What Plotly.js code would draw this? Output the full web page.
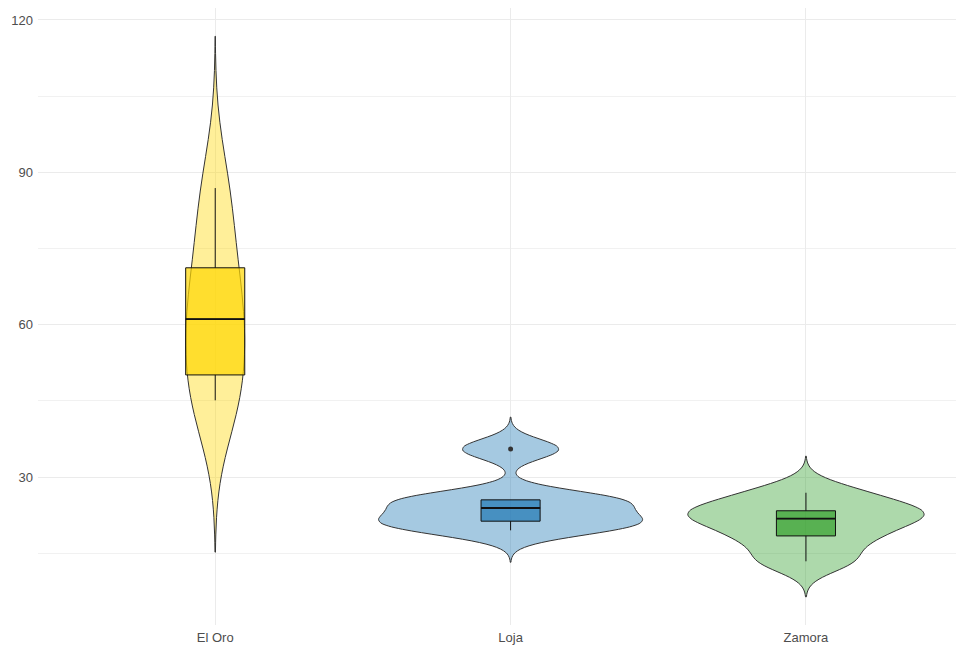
<!DOCTYPE html>
<html><head><meta charset="utf-8">
<script src="https://cdn.plot.ly/plotly-3.0.1.min.js"></script>
<style>html,body{margin:0;padding:0;background:#fff}#chart{width:956px;height:645px}</style>
</head><body><div id="chart"></div>
<script>
// ---- data ----
const categories = ['El Oro', 'Loja', 'Zamora'];
const elOroValues = [45.1, 46.4, 61.1, 61.1, 74.6, 86.9];
const lojaValues = [19.5, 21.0, 22.3, 25.5, 25.5, 35.5];
const zamoraValues = [13.4, 17.7, 20.6, 23.0, 23.5, 26.9];
const bandwidths = [10.3, 1.97, 2.32];
const spanLow = [15.2, 13.2, 6.4];
const spanHigh = [116.8, 41.8, 34.1];
const q1Values = [50.1, 21.3, 18.4];
const medianValues = [61.1, 23.9, 21.8];
const q3Values = [71.2, 25.5, 23.35];
const lowerWhiskers = [45.1, 19.5, 13.4];
const upperWhiskers = [86.9, 25.5, 26.9];
const outlierCategories = ['Loja'];
const outlierValues = [35.5];
const yTickValues = [30, 60, 90, 120];
const yMinorValues = [15, 45, 75, 105];
const baseRgb = ['255,215,0', '31,120,180', '51,160,44'];

const samples = [elOroValues, lojaValues, zamoraValues];
const traces = [];

categories.forEach((cat, i) => {
  traces.push({
    type: 'violin', x0: cat, y: samples[i], name: cat,
    bandwidth: bandwidths[i], spanmode: 'manual', span: [spanLow[i], spanHigh[i]],
    scalegroup: 'all', scalemode: 'width', side: 'both',
    fillcolor: 'rgba(' + baseRgb[i] + ',0.4)',
    line: {color: '#333333', width: 1},
    points: false, box: {visible: false}, meanline: {visible: false},
    hoverinfo: 'skip', showlegend: false
  });
});

categories.forEach((cat, i) => {
  traces.push({
    type: 'box', x: [cat], q1: [q1Values[i]], median: [medianValues[i]], q3: [q3Values[i]],
    lowerfence: [lowerWhiskers[i]], upperfence: [upperWhiskers[i]],
    width: 0.2, whiskerwidth: 0, boxpoints: false,
    fillcolor: 'rgba(' + baseRgb[i] + ',0.7)',
    line: {color: '#111', width: 1},
    hoverinfo: 'skip', showlegend: false
  });
  // thicker median bar
  traces.push({
    type: 'box', x: [cat], q1: [medianValues[i]], median: [medianValues[i]], q3: [medianValues[i]],
    lowerfence: [medianValues[i]], upperfence: [medianValues[i]],
    width: 0.2, whiskerwidth: 0, boxpoints: false,
    fillcolor: 'rgba(0,0,0,0)',
    line: {color: '#111', width: 1.8},
    hoverinfo: 'skip', showlegend: false
  });
});

traces.push({
  type: 'scatter', mode: 'markers', x: outlierCategories, y: outlierValues,
  marker: {color: '#333', size: 5}, hoverinfo: 'skip', showlegend: false
});

const layout = {
  width: 956, height: 645,
  margin: {l: 38, r: 0, t: 8, b: 20, pad: 0},
  paper_bgcolor: '#ffffff', plot_bgcolor: '#ffffff',
  showlegend: false,
  violinmode: 'overlay', violingap: 0.106, violingroupgap: 0,
  boxmode: 'overlay',
  font: {family: '"Liberation Sans", Arial, sans-serif', size: 13, color: '#4D4D4D'},
  xaxis: {
    type: 'category', categoryorder: 'array', categoryarray: categories,
    range: [-0.6, 2.508], showgrid: true, gridcolor: '#EBEBEB', gridwidth: 1,
    zeroline: false, showline: false, ticks: '', ticklabelstandoff: 3,
    tickfont: {size: 13, color: '#4D4D4D'}
  },
  yaxis: {
    range: [0.855, 122.36], tickmode: 'array', tickvals: yTickValues,
    showgrid: true, gridcolor: '#EBEBEB', gridwidth: 1,
    zeroline: false, showline: false, ticks: '', ticklabelstandoff: 4,
    tickfont: {size: 13, color: '#4D4D4D'},
    minor: {tickmode: 'array', tickvals: yMinorValues, showgrid: true, gridcolor: '#F1F1F1', gridwidth: 1, ticks: ''}
  }
};

Plotly.newPlot('chart', traces, layout, {displayModeBar: false, staticPlot: true});
</script>
</body></html>
